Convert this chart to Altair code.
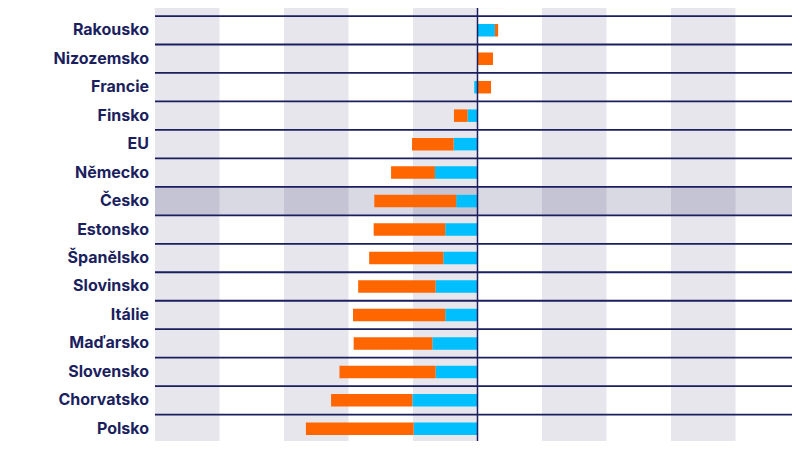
import altair as alt
import pandas as pd

countries = ["Malta", "Rakousko", "Nizozemsko", "Francie", "Finsko", "EU", "Německo",
             "Česko", "Estonsko", "Španělsko", "Slovinsko", "Itálie", "Maďarsko",
             "Slovensko", "Chorvatsko", "Polsko"]
blue_vals = [0.21, 0.27, 0.0, -0.05, -0.155, -0.37, -0.66, -0.33, -0.50, -0.53, -0.65,
             -0.50, -0.70, -0.65, -1.01, -0.99]
orange_vals = [0.22, 0.05, 0.24, 0.21, -0.21, -0.645, -0.68, -1.27, -1.11, -1.15, -1.20,
               -1.43, -1.22, -1.49, -1.26, -1.67]
highlight = "Česko"
band_starts = [-5, -3, -1, 1, 3]

BLUE = "#00BFFF"
ORANGE = "#FF6600"
NAVY = "#1B1F5E"
GREY = "#E6E6EC"

rows = []
for i, c in enumerate(countries):
    rows.append({"country": c, "idx": i, "series": "modrá", "order": 0, "value": blue_vals[i]})
    rows.append({"country": c, "idx": i, "series": "oranžová", "order": 1, "value": orange_vals[i]})
bars_df = pd.DataFrame(rows)
labels_df = pd.DataFrame({"country": countries, "idx": list(range(len(countries)))})
bands_df = pd.DataFrame({"x": band_starts, "x2": [b + 1 for b in band_starts]})
bounds_df = pd.DataFrame({"b": [i + 0.5 for i in range(len(countries))]})
hi = countries.index(highlight)
hi_df = pd.DataFrame({"y": [hi - 0.5], "y2": [hi + 0.5]})

xs = alt.Scale(domain=[-5, 4.876], nice=False, zero=False, padding=0)
ys = alt.Scale(domain=[0.218, 15.427], nice=False, zero=False, reverse=True, padding=0)

bands = alt.Chart(bands_df).mark_rect(color=GREY).encode(
    x=alt.X("x:Q", scale=xs, axis=None), x2="x2:Q")

hilite = alt.Chart(hi_df).mark_rect(color=NAVY, opacity=0.17).encode(
    y=alt.Y("y:Q", scale=ys, axis=None), y2="y2:Q")

bars = alt.Chart(bars_df).mark_bar(size=12.5, orient="horizontal").encode(
    x=alt.X("value:Q", scale=xs, axis=None, stack="zero"),
    y=alt.Y("idx:Q", scale=ys, axis=None),
    detail="country:N",
    color=alt.Color("series:N", scale=alt.Scale(domain=["modrá", "oranžová"], range=[BLUE, ORANGE]), legend=None),
    order=alt.Order("order:Q"),
)

lines = alt.Chart(bounds_df).transform_filter("datum.b < 15.4").mark_rule(color=NAVY, strokeWidth=1.8).encode(
    y=alt.Y("b:Q", scale=ys, axis=None))

zero = alt.Chart(pd.DataFrame({"z": [0]})).mark_rule(color=NAVY, strokeWidth=1.5).encode(
    x=alt.X("z:Q", scale=xs, axis=None))

labels = alt.Chart(labels_df).mark_text(
    align="right", baseline="middle", font="Inter", fontWeight="bold", fontSize=16,
    color=NAVY).encode(
    x=alt.value(-6),
    y=alt.Y("idx:Q", scale=ys, axis=None),
    text="country:N")

chart = alt.layer(bands, hilite, bars, lines, zero, labels).properties(
    width=637, height=433,
    autosize=alt.AutoSizeParams(type="none"),
    padding={"left": 147, "top": 0, "right": 0, "bottom": 0},
).configure_view(stroke=None)

chart.save("out.html", embed_options={"renderer": "svg", "actions": False})
